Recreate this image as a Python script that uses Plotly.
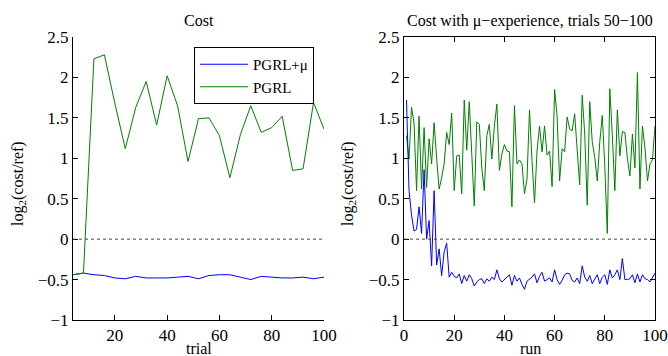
import plotly.graph_objects as go

# ---- Left panel: Cost vs trial ----
trial = list(range(4, 101, 4))
left_pgrl_mu = [-0.44, -0.42, -0.44, -0.45, -0.48, -0.49, -0.46, -0.48, -0.48, -0.48,
                -0.47, -0.46, -0.49, -0.45, -0.44, -0.44, -0.47, -0.50, -0.46, -0.47,
                -0.48, -0.48, -0.47, -0.49, -0.47]
left_pgrl = [-0.44, -0.42, 2.23, 2.28, 1.68, 1.12, 1.63, 1.95, 1.41, 2.02,
             1.65, 0.96, 1.49, 1.50, 1.28, 0.76, 1.29, 1.65, 1.32, 1.38,
             1.52, 0.85, 0.87, 1.69, 1.36]

# ---- Right panel: Cost with mu-experience vs run ----
run = list(range(1, 101))
right_pgrl_mu = [1.72, 0.60, 0.30, 0.10, 0.12, 0.40, 0.07, 0.86, 0.00, 0.23,
                 -0.33, 0.60, -0.32, -0.12, -0.45, -0.16, -0.05, -0.47, -0.41, -0.46,
                 -0.48, -0.43, -0.55, -0.45, -0.52, -0.44, -0.49, -0.58, -0.53, -0.50,
                 -0.49, -0.55, -0.49, -0.52, -0.47, -0.50, -0.38, -0.49, -0.53, -0.50,
                 -0.47, -0.44, -0.57, -0.45, -0.52, -0.48, -0.56, -0.62, -0.52, -0.50,
                 -0.47, -0.43, -0.54, -0.46, -0.41, -0.52, -0.50, -0.48, -0.53, -0.38,
                 -0.50, -0.56, -0.51, -0.44, -0.42, -0.43, -0.51, -0.53, -0.48, -0.55,
                 -0.33, -0.47, -0.52, -0.45, -0.55, -0.49, -0.44, -0.55, -0.47, -0.44,
                 -0.56, -0.38, -0.48, -0.44, -0.38, -0.50, -0.24, -0.50, -0.50, -0.49,
                 -0.44, -0.54, -0.43, -0.53, -0.44, -0.49, -0.50, -0.53, -0.47, -0.42]
right_pgrl = [1.28, 0.99, 1.63, 1.44, 0.60, 1.52, 0.62, 1.38, 0.64, 1.24,
              0.93, 1.44, 1.00, 0.62, 0.76, 0.93, 1.32, 1.17, 1.56, 0.60,
              1.03, 1.04, 0.56, 1.72, 1.10, 1.70, 1.05, 0.41, 1.45, 1.42,
              0.88, 0.60, 1.28, 1.42, 0.99, 1.40, 1.67, 0.85, 1.05, 1.17,
              1.09, 1.08, 0.40, 1.65, 0.93, 0.98, 0.93, 0.56, 0.74, 1.60,
              0.97, 0.45, 1.09, 1.40, 1.08, 1.40, 1.04, 1.09, 0.65, 1.85,
              1.52, 0.72, 1.12, 1.08, 1.51, 1.36, 1.34, 1.55, 1.10, 0.67,
              1.78, 1.30, 0.42, 1.70, 1.20, 1.01, 0.72, 1.20, 1.53, 0.90,
              0.07, 1.86, 1.28, 0.60, 1.60, 1.03, 1.33, 1.32, 1.00, 0.78,
              1.30, 0.88, 2.06, 0.62, 1.40, 1.13, 0.72, 0.93, 0.98, 1.40]

yticks = [-1, -0.5, 0, 0.5, 1, 1.5, 2, 2.5]
left_xticks = [20, 40, 60, 80, 100]
right_xticks = [0, 20, 40, 60, 80, 100]

BLUE = "#0000ff"
GREEN = "#008000"
FONT = "Liberation Serif, Times New Roman, serif"
W, H = 668, 356

fig = go.Figure()
fig.add_trace(go.Scatter(x=trial, y=left_pgrl_mu, mode="lines", name="PGRL+μ",
                         line=dict(color=BLUE, width=1), xaxis="x", yaxis="y"))
fig.add_trace(go.Scatter(x=trial, y=left_pgrl, mode="lines", name="PGRL",
                         line=dict(color=GREEN, width=1), xaxis="x", yaxis="y"))
fig.add_trace(go.Scatter(x=run, y=right_pgrl, mode="lines", showlegend=False,
                         line=dict(color=GREEN, width=1), xaxis="x2", yaxis="y2"))
fig.add_trace(go.Scatter(x=run, y=right_pgrl_mu, mode="lines", showlegend=False,
                         line=dict(color=BLUE, width=1), xaxis="x2", yaxis="y2"))

def px_x(p):
    return p / W

def px_y(p):
    return 1 - p / H

axis_common = dict(showgrid=False, zeroline=False, showline=True, linecolor="black",
                   linewidth=1, ticks="inside", ticklen=5, tickcolor="black",
                   automargin=False,
                   tickfont=dict(family=FONT, size=17, color="black"))

fig.update_layout(
    width=W, height=H,
    margin=dict(l=0, r=0, t=0, b=0, autoexpand=False),
    paper_bgcolor="white", plot_bgcolor="white",
    font=dict(family=FONT, size=15, color="black"),
    xaxis=dict(domain=[px_x(73), px_x(324)], range=[4, 100], tickvals=left_xticks,
               anchor="y", **axis_common),
    yaxis=dict(domain=[px_y(320), px_y(37)], range=[-1, 2.5], tickvals=yticks,
               anchor="x", **axis_common),
    xaxis2=dict(domain=[px_x(404), px_x(655)], range=[0, 100], tickvals=right_xticks,
                anchor="y2", mirror="ticks", **axis_common),
    yaxis2=dict(domain=[px_y(320), px_y(37)], range=[-1, 2.5], tickvals=yticks,
                anchor="x2", mirror="ticks", **axis_common),
    showlegend=True,
    legend=dict(x=px_x(194), y=px_y(47), xanchor="left", yanchor="top",
                bgcolor="white", bordercolor="black", borderwidth=1,
                font=dict(family=FONT, size=15, color="black"),
                tracegroupgap=0, itemwidth=48),
)

# dotted zero reference lines
fig.add_shape(type="line", xref="x", yref="y", x0=4, x1=100, y0=0, y1=0,
              line=dict(color="#444444", width=1, dash="dot"))
fig.add_shape(type="line", xref="x2", yref="y2", x0=0, x1=100, y0=0, y1=0,
              line=dict(color="#444444", width=1, dash="dot"))

ann = [
    dict(text="Cost", x=px_x(198.5), y=px_y(21)),
    dict(text="Cost with μ−experience, trials 50−100", x=px_x(530), y=px_y(21)),
    dict(text="trial", x=px_x(198.5), y=px_y(348)),
    dict(text="run", x=px_x(530), y=px_y(348)),
    dict(text="log<sub>2</sub>(cost/ref)", x=px_x(18), y=px_y(184), textangle=-90),
    dict(text="log<sub>2</sub>(cost/ref)", x=px_x(348), y=px_y(184), textangle=-90),
]
for a in ann:
    fig.add_annotation(xref="paper", yref="paper", showarrow=False,
                       xanchor="center", yanchor="middle",
                       font=dict(family=FONT, size=16, color="black"), **a)

fig.write_html("out.html")
